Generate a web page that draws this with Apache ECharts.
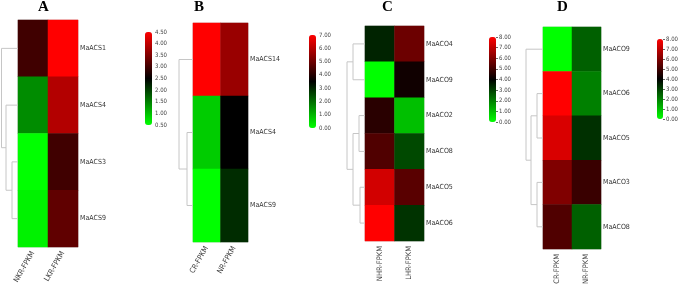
<!DOCTYPE html>
<html>
<head>
<meta charset="utf-8">
<script src="https://cdn.jsdelivr.net/npm/echarts@6/dist/echarts.min.js"></script>
<style>
  html, body { margin: 0; padding: 0; background: #fff; }
  #chart { width: 685px; height: 291px; }
</style>
</head>
<body>
<div id="chart"></div>
<script>
// panel A
const rowsA = ["MaACS1", "MaACS4", "MaACS3", "MaACS9"];
const colsA = ["NKR-FPKM", "LKR-FPKM"];
const valuesA = [[3.0, 4.5], [1.4, 3.9], [0.5, 3.0], [0.6, 3.25]];
const mergesA = [[2, 3, 6], [1, 4, 12], [0, 5, 16.5]];
const scaleA = [0.5, 4.5, 0.5];

// panel B
const rowsB = ["MaACS14", "MaACS4", "MaACS9"];
const colsB = ["CR-FPKM", "NR-FPKM"];
const valuesB = [[7.0, 5.6], [0.7, 3.5], [0.0, 2.9]];
const mergesB = [[1, 2, 6], [0, 3, 14]];
const scaleB = [0, 7, 1];

// panel C
const rowsC = ["MaACO4", "MaACO9", "MaACO2", "MaACO8", "MaACO5", "MaACO6"];
const colsC = ["NHR-FPKM", "LHR-FPKM"];
const valuesC = [[3.45, 5.7], [0.0, 4.25], [4.65, 1.0], [5.25, 2.85], [7.3, 5.4], [8.0, 3.2]];
const mergesC = [[0, 1, 12], [2, 3, 6], [4, 5, 5], [7, 8, 12], [6, 9, 18]];
const scaleC = [0, 8, 1];

// panel D
const rowsD = ["MaACO9", "MaACO6", "MaACO5", "MaACO3", "MaACO8"];
const colsD = ["CR-FPKM", "NR-FPKM"];
const valuesD = [[0.0, 2.5], [8.0, 2.0], [7.4, 3.25], [6.0, 4.9], [5.25, 2.5]];
const mergesD = [[1, 2, 6], [3, 4, 6], [5, 6, 12], [0, 7, 17]];
const scaleD = [0, 8, 1];

const narrow = "'Liberation Sans Narrow', 'DejaVu Sans Condensed', sans-serif";

// layout: heatmap box, colour bar box, title x, label rotation
const panels = [
  { name: "A", rows: rowsA, cols: colsA, values: valuesA, merges: mergesA, scale: scaleA,
    heat: [18, 20, 60, 227], bar: [145, 32, 7, 93], titleX: 38, rotate: 60, ticks: false },
  { name: "B", rows: rowsB, cols: colsB, values: valuesB, merges: mergesB, scale: scaleB,
    heat: [193, 23, 55, 219], bar: [309, 35, 7, 93], titleX: 194, rotate: 60, ticks: false },
  { name: "C", rows: rowsC, cols: colsC, values: valuesC, merges: mergesC, scale: scaleC,
    heat: [365, 26, 59, 215], bar: [489, 37, 7, 85], titleX: 382, rotate: 90, ticks: true },
  { name: "D", rows: rowsD, cols: colsD, values: valuesD, merges: mergesD, scale: scaleD,
    heat: [543, 27, 58, 222], bar: [657, 39, 6, 80], titleX: 557, rotate: 90, ticks: true }
];

function dendroLines(n, merges) {
  const pos = [], ht = [];
  for (let i = 0; i < n; i++) { pos.push(i); ht.push(0); }
  const out = [];
  merges.forEach(([a, b, h]) => {
    out.push({ coords: [[ht[a], pos[a]], [h, pos[a]], [h, pos[b]], [ht[b], pos[b]]] });
    pos.push((pos[a] + pos[b]) / 2);
    ht.push(h);
  });
  return out;
}

const grid = [], xAxis = [], yAxis = [], series = [], visualMap = [], title = [];
const dendroW = 18;

panels.forEach((p, i) => {
  const [hl, ht, hw, hh] = p.heat;
  const [bl, bt, bw, bh] = p.bar;
  const g = grid.length;

  // heatmap grid
  grid.push({ left: hl, top: ht, width: hw, height: hh, show: true, borderColor: "#d4d4d4", borderWidth: 1 });
  xAxis.push({
    type: "category", gridIndex: g, data: p.cols,
    axisLine: { show: false }, axisTick: { show: false },
    axisLabel: { rotate: p.rotate, margin: 5, fontSize: 7.5, color: "#444", fontFamily: narrow, interval: 0 }
  });
  yAxis.push({
    type: "category", gridIndex: g, data: p.rows, inverse: true, position: "right",
    axisLine: { show: false }, axisTick: { show: false },
    axisLabel: { margin: 2, fontSize: 7, color: "#333", fontFamily: narrow }
  });
  const data = [];
  p.values.forEach((row, r) => row.forEach((v, c) => data.push([c, r, v])));
  series.push({
    type: "heatmap", xAxisIndex: g, yAxisIndex: g, data: data,
    itemStyle: { borderWidth: 0 }, silent: true
  });

  // dendrogram grid
  grid.push({ left: hl - dendroW, top: ht, width: dendroW, height: hh });
  xAxis.push({ type: "value", gridIndex: g + 1, min: 0, max: dendroW, inverse: true, show: false });
  yAxis.push({ type: "value", gridIndex: g + 1, min: -0.5, max: p.rows.length - 0.5, inverse: true, show: false });

  // colour bar labels
  grid.push({ left: bl + bw, top: bt, width: 1, height: bh });
  xAxis.push({ type: "value", gridIndex: g + 2, show: false });
  yAxis.push({
    type: "value", gridIndex: g + 2, position: "left",
    min: p.scale[0], max: p.scale[1], interval: p.scale[2],
    axisLine: { show: false }, splitLine: { show: false },
    axisTick: { show: p.ticks, inside: true, length: 2, lineStyle: { color: "#666", width: 1 } },
    axisLabel: { inside: true, margin: 3, fontSize: 6, color: "#444", fontFamily: narrow,
      formatter: v => v.toFixed(2) }
  });

  visualMap.push({
    type: "continuous", seriesIndex: i, min: p.scale[0], max: p.scale[1],
    left: bl, top: bt, itemWidth: bw, itemHeight: bh, padding: 0,
    calculable: false, hoverLink: false,
    inRange: { color: ["#00ff00", "#000000", "#ff0000"] }
  });

  title.push({
    text: p.name, left: p.titleX, top: 0, padding: 0,
    textStyle: { fontFamily: "'Liberation Serif', 'Times New Roman', serif", fontWeight: "bold", fontSize: 15, color: "#000" }
  });
});

panels.forEach((p, i) => {
  series.push({
    type: "lines", coordinateSystem: "cartesian2d", polyline: true,
    xAxisIndex: i * 3 + 1, yAxisIndex: i * 3 + 1,
    lineStyle: { color: "#c6c6c6", width: 1, opacity: 1 },
    data: dendroLines(p.rows.length, p.merges), silent: true
  });
});

const chart = echarts.init(document.getElementById("chart"), null, { renderer: "canvas" });
chart.setOption({
  animation: false,
  backgroundColor: "#ffffff",
  title: title,
  grid: grid,
  xAxis: xAxis,
  yAxis: yAxis,
  visualMap: visualMap,
  series: series
});
</script>
</body>
</html>
